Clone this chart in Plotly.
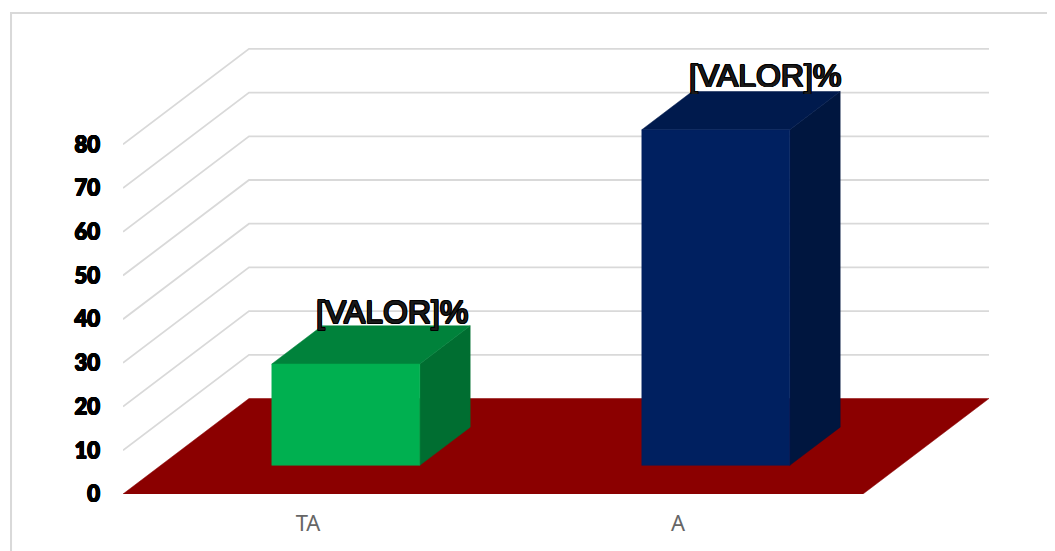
import plotly.graph_objects as go

categories = ["TA", "A"]
values = [23.2, 76.8]
label_texts = ["[VALOR]%", "[VALOR]%"]
front_colors = ["#00B050", "#002060"]
top_colors = ["#00823B", "#001A4D"]
side_colors = ["#006E31", "#00163F"]
y_ticks = [0, 10, 20, 30, 40, 50, 60, 70, 80]

# Oblique 3D projection, expressed in axis units
X_SHEAR = 126 / 370      # x-axis units per unit of depth
Y_SHEAR = 95.5 / 4.37    # y-axis units per unit of depth
BAR_LEFT, BAR_RIGHT = 0.3, 0.7    # within a category slot
BAR_NEAR, BAR_FAR = 0.3, 0.7      # within the depth of the floor
N_CAT = len(categories)
LABEL_LIFT_PX = [11, 13]          # label centre above the bar's back top edge
LABEL_SHIFT_PX = [-4, -1]         # label centre relative to the bar's back top edge
PX_PER_X, PX_PER_Y = 370, 4.37


def project(x, y, z):
    return x + z * X_SHEAR, y + z * Y_SHEAR


def face(points, color, name):
    pts = [project(*p) for p in points]
    pts.append(pts[0])
    return go.Scatter(
        x=[p[0] for p in pts], y=[p[1] for p in pts],
        mode="lines", fill="toself", fillcolor=color,
        line=dict(color=color, width=0.5),
        hoverinfo="skip", showlegend=False, name=name,
    )


def stroke(w, color):
    return ",".join(f"{a}px {b}px 0 {color}" for a, b in
                    [(w, 0), (-w, 0), (0, w), (0, -w), (w, w), (-w, -w), (w, -w), (-w, w)])


fig = go.Figure()

# Wall and side gridlines
gx, gy = [], []
for v in y_ticks[1:]:
    for p in [project(0, v, 0), project(0, v, 1), project(N_CAT, v, 1)]:
        gx.append(p[0])
        gy.append(p[1])
    gx.append(None)
    gy.append(None)
fig.add_trace(go.Scatter(x=gx, y=gy, mode="lines",
                         line=dict(color="#D9D9D9", width=1.8),
                         hoverinfo="skip", showlegend=False))

# Floor
fig.add_trace(face([(0, 0, 0), (N_CAT, 0, 0), (N_CAT, 0, 1), (0, 0, 1)], "#8B0000", "floor"))

# Bars
lx, ly = [], []
for i, v in enumerate(values):
    x0, x1 = i + BAR_LEFT, i + BAR_RIGHT
    z0, z1 = BAR_NEAR, BAR_FAR
    fig.add_trace(face([(x1, 0, z0), (x1, 0, z1), (x1, v, z1), (x1, v, z0)], side_colors[i], "side"))
    fig.add_trace(face([(x0, v, z0), (x1, v, z0), (x1, v, z1), (x0, v, z1)], top_colors[i], "top"))
    fig.add_trace(face([(x0, 0, z0), (x1, 0, z0), (x1, v, z0), (x0, v, z0)], front_colors[i], "front"))
    p = project((x0 + x1) / 2, v, z1)
    lx.append(p[0] + LABEL_SHIFT_PX[i] / PX_PER_X)
    ly.append(p[1] + LABEL_LIFT_PX[i] / PX_PER_Y)

# Data labels
fig.add_trace(go.Scatter(
    x=lx, y=ly, mode="text", text=label_texts, textposition="middle center",
    textfont=dict(family="Liberation Sans", size=32, color="#1A1A1A", shadow=stroke(0.8, "#000000")),
    hoverinfo="skip", showlegend=False, cliponaxis=False,
))

fig.update_layout(
    width=1047, height=543,
    margin=dict(l=115, r=66, t=6, b=57, autoexpand=False),
    paper_bgcolor="white", plot_bgcolor="white",
    showlegend=False,
    xaxis=dict(
        range=[0, 866 / PX_PER_X], tickmode="array", tickvals=[i + 0.5 for i in range(N_CAT)],
        ticktext=categories, showgrid=False, zeroline=False, showline=False, ticks="",
        tickfont=dict(family="Noto Sans", size=22, color="#666666"), ticklabelstandoff=14,
    ),
    yaxis=dict(
        range=[0, 480 / PX_PER_Y], tickmode="array", tickvals=y_ticks,
        showgrid=False, zeroline=False, showline=False, ticks="",
        tickfont=dict(family="Lato", size=22, color="#000000", weight=900, shadow=stroke(0.5, "#000000")),
        ticklabelstandoff=22,
    ),
    shapes=[dict(
        type="path", xref="paper", yref="paper", layer="below",
        path="M -0.1293 -0.12 L -0.1293 1.002 L 1.0762 1.002",
        line=dict(color="#D9D9D9", width=2),
    )],
)

fig.write_html("out.html")
